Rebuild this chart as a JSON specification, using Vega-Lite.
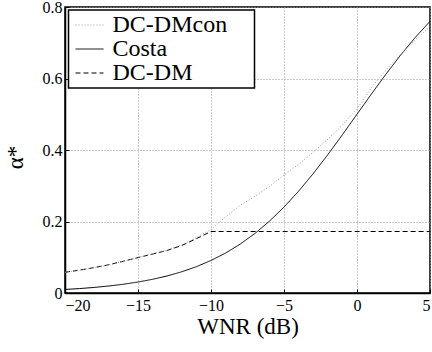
{
  "$schema": "https://vega.github.io/schema/vega-lite/v6.json",
  "width": 365,
  "height": 286,
  "autosize": {"type": "none"},
  "padding": {"left": 65, "top": 7, "right": 2, "bottom": 59},
  "background": "white",
  "config": {
    "view": {"stroke": "black", "strokeWidth": 1.5},
    "font": "'Liberation Serif', serif",
    "legend": {"strokeWidth": 1.5, "labelFont": "'Liberation Serif', serif", "labelFontSize": 24},
    "axis": {
      "domainColor": "black",
      "domainWidth": 1.5,
      "grid": true,
      "gridColor": "#999999",
      "gridDash": [1, 2],
      "gridWidth": 1,
      "ticks": true,
      "tickColor": "black",
      "tickSize": -4,
      "labelColor": "black",
      "titleColor": "black",
      "labelFont": "'Liberation Serif', serif",
      "titleFont": "'Liberation Serif', serif",
      "labelFontSize": 16,
      "titleFontSize": 23,
      "titleFontWeight": "normal",
      "format": "~g"
    }
  },
  "data": {
    "values": [
      {"s": "Costa", "x": -20, "y": 0.0099},
      {"s": "Costa", "x": -19, "y": 0.0124},
      {"s": "Costa", "x": -18, "y": 0.0156},
      {"s": "Costa", "x": -17, "y": 0.0196},
      {"s": "Costa", "x": -16, "y": 0.0245},
      {"s": "Costa", "x": -15, "y": 0.0307},
      {"s": "Costa", "x": -14, "y": 0.0383},
      {"s": "Costa", "x": -13, "y": 0.0477},
      {"s": "Costa", "x": -12, "y": 0.0594},
      {"s": "Costa", "x": -11, "y": 0.0736},
      {"s": "Costa", "x": -10, "y": 0.0909},
      {"s": "Costa", "x": -9, "y": 0.1118},
      {"s": "Costa", "x": -8, "y": 0.1368},
      {"s": "Costa", "x": -7, "y": 0.1663},
      {"s": "Costa", "x": -6, "y": 0.2008},
      {"s": "Costa", "x": -5, "y": 0.2403},
      {"s": "Costa", "x": -4, "y": 0.2847},
      {"s": "Costa", "x": -3, "y": 0.3339},
      {"s": "Costa", "x": -2, "y": 0.3869},
      {"s": "Costa", "x": -1, "y": 0.4427},
      {"s": "Costa", "x": 0, "y": 0.5},
      {"s": "Costa", "x": 1, "y": 0.5573},
      {"s": "Costa", "x": 2, "y": 0.6131},
      {"s": "Costa", "x": 3, "y": 0.6661},
      {"s": "Costa", "x": 4, "y": 0.7153},
      {"s": "Costa", "x": 5, "y": 0.7597},
      {"s": "DC-DM", "x": -20, "y": 0.058},
      {"s": "DC-DM", "x": -19, "y": 0.064},
      {"s": "DC-DM", "x": -18, "y": 0.071},
      {"s": "DC-DM", "x": -17, "y": 0.079},
      {"s": "DC-DM", "x": -16, "y": 0.089},
      {"s": "DC-DM", "x": -15, "y": 0.099},
      {"s": "DC-DM", "x": -14, "y": 0.109},
      {"s": "DC-DM", "x": -13, "y": 0.119},
      {"s": "DC-DM", "x": -12, "y": 0.133},
      {"s": "DC-DM", "x": -11, "y": 0.152},
      {"s": "DC-DM", "x": -10, "y": 0.172},
      {"s": "DC-DM", "x": -5, "y": 0.172},
      {"s": "DC-DM", "x": 0, "y": 0.172},
      {"s": "DC-DM", "x": 5, "y": 0.172},
      {"s": "DC-DMcon", "x": -20, "y": 0.058},
      {"s": "DC-DMcon", "x": -19, "y": 0.064},
      {"s": "DC-DMcon", "x": -18, "y": 0.071},
      {"s": "DC-DMcon", "x": -17, "y": 0.079},
      {"s": "DC-DMcon", "x": -16, "y": 0.089},
      {"s": "DC-DMcon", "x": -15, "y": 0.099},
      {"s": "DC-DMcon", "x": -14, "y": 0.109},
      {"s": "DC-DMcon", "x": -13, "y": 0.12},
      {"s": "DC-DMcon", "x": -12, "y": 0.135},
      {"s": "DC-DMcon", "x": -11, "y": 0.155},
      {"s": "DC-DMcon", "x": -10, "y": 0.178},
      {"s": "DC-DMcon", "x": -9, "y": 0.213},
      {"s": "DC-DMcon", "x": -8, "y": 0.245},
      {"s": "DC-DMcon", "x": -7, "y": 0.27},
      {"s": "DC-DMcon", "x": -6, "y": 0.298},
      {"s": "DC-DMcon", "x": -5, "y": 0.33},
      {"s": "DC-DMcon", "x": -4, "y": 0.36},
      {"s": "DC-DMcon", "x": -3, "y": 0.394},
      {"s": "DC-DMcon", "x": -2, "y": 0.43},
      {"s": "DC-DMcon", "x": -1, "y": 0.47},
      {"s": "DC-DMcon", "x": 0, "y": 0.515},
      {"s": "DC-DMcon", "x": 1, "y": 0.575},
      {"s": "DC-DMcon", "x": 2, "y": 0.625},
      {"s": "DC-DMcon", "x": 3, "y": 0.668},
      {"s": "DC-DMcon", "x": 4, "y": 0.708},
      {"s": "DC-DMcon", "x": 5, "y": 0.745}
    ]
  },
  "mark": {"type": "line", "strokeWidth": 1, "clip": true},
  "encoding": {
    "x": {
      "field": "x",
      "type": "quantitative",
      "scale": {"domain": [-20, 5], "nice": false},
      "axis": {"values": [-20, -15, -10, -5, 0, 5], "title": "WNR (dB)", "labelPadding": 8, "titlePadding": 2}
    },
    "y": {
      "field": "y",
      "type": "quantitative",
      "scale": {"domain": [0, 0.8], "nice": false},
      "axis": {"values": [0, 0.2, 0.4, 0.6, 0.8], "title": "α*", "labelPadding": 7, "titleX": -38, "titleY": 150}
    },
    "color": {
      "field": "s",
      "type": "nominal",
      "scale": {"domain": ["DC-DMcon", "Costa", "DC-DM"], "range": ["#999999", "black", "black"]},
      "legend": {
        "title": null,
        "orient": "none",
        "legendX": 3.5,
        "legendY": 3,
        "fillColor": "white",
        "strokeColor": "black",
        "padding": 3,
        "symbolType": "M-2,0H2",
        "symbolSize": 196,
        "symbolStrokeWidth": 1,
        "symbolOffset": 6,
        "labelColor": "black",
        "labelOffset": 11,
        "rowPadding": -4,
        "labelExpr": "datum.label + '\u00a0\u00a0\u00a0\u00a0\u200b'"
      }
    },
    "strokeDash": {
      "field": "s",
      "type": "nominal",
      "scale": {"domain": ["DC-DMcon", "Costa", "DC-DM"], "range": [[1, 2], [1, 0], [5, 3]]},
      "legend": null
    }
  }
}
